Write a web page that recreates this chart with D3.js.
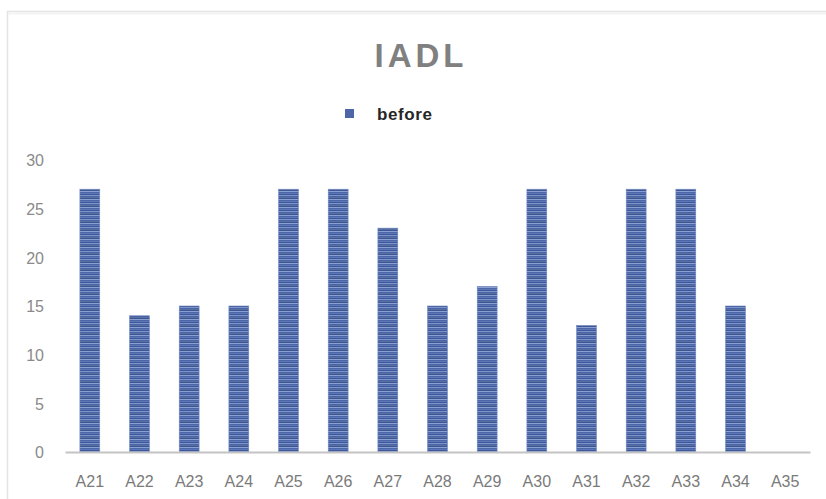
<!DOCTYPE html>
<html>
<head>
<meta charset="utf-8">
<script src="https://cdn.jsdelivr.net/npm/d3@7/dist/d3.min.js"></script>
<style>
  html, body { margin: 0; padding: 0; background: #ffffff; }
  svg { display: block; }
</style>
</head>
<body>
<svg id="chart" width="826" height="499"></svg>
<script>
// IADL scores per participant
const categories = ["A21","A22","A23","A24","A25","A26","A27","A28","A29","A30","A31","A32","A33","A34","A35"];
const beforeValues = [27, 14, 15, 15, 27, 27, 23, 15, 17, 27, 13, 27, 27, 15, 0];
const yTicks = [0, 5, 10, 15, 20, 25, 30];
const chartTitle = "IADL";
const seriesName = "before";

const svg = d3.select("#chart");
const W = 826, H = 499;
const margin = { left: 65, right: 16, top: 160, bottom: 47 };
const plotW = W - margin.left - margin.right;
const yBase = 452;

// chart frame
svg.append("rect")
  .attr("x", 7.5).attr("y", 11.5)
  .attr("width", 840).attr("height", 520)
  .attr("fill", "#ffffff")
  .attr("stroke", "#e4e4e4").attr("stroke-width", 1.5);
svg.append("line")
  .attr("x1", 8).attr("x2", 826).attr("y1", 13.5).attr("y2", 13.5)
  .attr("stroke", "#f3f3f3").attr("stroke-width", 2);

// striped bar fill
const defs = svg.append("defs");
const pat = defs.append("pattern")
  .attr("id", "stripes").attr("patternUnits", "userSpaceOnUse")
  .attr("width", 20).attr("height", 8);
const rows = ["#4c66a8", "#5b76b8", "#3f5898", "#7d94cb", "#4a64a6", "#56709f", "#3d5594", "#8aa0d2"];
rows.forEach((c, i) => pat.append("rect").attr("x", 0).attr("y", i).attr("width", 20).attr("height", 1).attr("fill", c));

const x = d3.scaleBand().domain(categories).range([margin.left, margin.left + plotW]).paddingInner(0.6).paddingOuter(0.3);
const y = d3.scaleLinear().domain([0, 30]).range([yBase, yBase - 292]);

// y-axis labels (no line, no gridlines)
const yAxis = d3.axisLeft(y).tickValues(yTicks).tickSize(0).tickPadding(0);
const gy = svg.append("g").attr("transform", "translate(44,0)").call(yAxis);
gy.select(".domain").remove();
gy.selectAll("text")
  .attr("font-family", "'Liberation Sans', Arial, sans-serif")
  .attr("font-size", 16).attr("fill", "#8a8a8a").attr("dy", "0.36em");

// bars
svg.append("g").selectAll("rect")
  .data(categories.map((c, i) => ({ c, v: beforeValues[i] })).filter(d => d.v > 0))
  .join("rect")
  .attr("x", d => x(d.c))
  .attr("width", x.bandwidth())
  .attr("y", d => y(d.v))
  .attr("height", d => y(0) - y(d.v))
  .attr("fill", "url(#stripes)")
  .attr("stroke", "#6f86c0").attr("stroke-width", 0.6);

// x-axis
const xAxis = d3.axisBottom(x).tickSize(0).tickPadding(0);
const gx = svg.append("g").attr("transform", `translate(0,${yBase})`).call(xAxis);
gx.select(".domain").attr("stroke", "#c4c4c4").attr("stroke-width", 2);
gx.selectAll("text")
  .attr("font-family", "'Liberation Sans', Arial, sans-serif")
  .attr("font-size", 16).attr("fill", "#7a7a7a")
  .attr("y", 35).attr("dy", 0);

// title
svg.append("text")
  .attr("x", 421).attr("y", 67)
  .attr("text-anchor", "middle")
  .attr("font-family", "'Liberation Sans', Arial, sans-serif")
  .attr("font-weight", "bold").attr("font-size", 33)
  .attr("letter-spacing", 4)
  .attr("fill", "#808080")
  .text(chartTitle);

// legend
svg.append("rect")
  .attr("x", 345).attr("y", 109).attr("width", 9).attr("height", 9)
  .attr("fill", "#4c66a8");
svg.append("text")
  .attr("x", 377).attr("y", 120)
  .attr("font-family", "'Liberation Sans', Arial, sans-serif")
  .attr("font-weight", "bold").attr("font-size", 17)
  .attr("letter-spacing", 0.6)
  .attr("fill", "#262626")
  .text(seriesName);
</script>
</body>
</html>
